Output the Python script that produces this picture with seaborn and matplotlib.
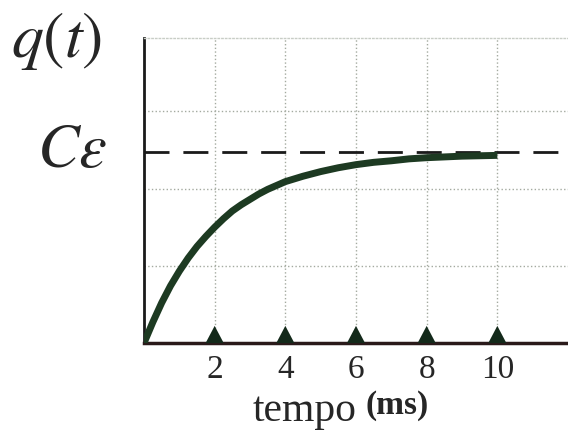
import numpy as np
import pandas as pd
import seaborn as sns
import matplotlib.pyplot as plt

# valori (unità di griglia)
t_ms = [0, 0.25, 0.5, 0.75, 1, 1.25, 1.5, 1.75, 2, 2.25, 2.5, 2.75, 3, 3.25,
        3.5, 3.75, 4, 4.5, 5, 5.5, 6, 6.5, 7, 7.5, 8, 8.5, 9, 9.5, 10]
q_vals = [0, 0.27, 0.52, 0.74, 0.93, 1.10, 1.25, 1.38, 1.50, 1.61, 1.71, 1.79,
          1.86, 1.93, 1.99, 2.04, 2.09, 2.16, 2.22, 2.27, 2.31, 2.34, 2.36,
          2.385, 2.40, 2.41, 2.42, 2.425, 2.43]
c_eps = 2.48
tick_pos = [2, 4, 6, 8, 10]
tick_lab = ['2', '4', '6', '8', '10']
grid_y = [1, 2, 3]

sns.set_style('white')
plt.rcParams['mathtext.fontset'] = 'stix'
plt.rcParams['font.family'] = ['Liberation Serif', 'DejaVu Serif']

df = pd.DataFrame({'t': t_ms, 'q': q_vals})
marks = pd.DataFrame({'t': tick_pos, 'q': [0] * len(tick_pos)})

fig = plt.figure(figsize=(5.68, 4.32), dpi=100)
ax = fig.add_axes([0.2535, 0.206, 0.7465, 0.706])

for x in tick_pos:
    ax.axvline(x, color='#a4aaa0', lw=1, ls=':', zorder=1)
for y in grid_y:
    ax.axhline(y, color='#a4aaa0', lw=1, ls=':', zorder=1)

ax.axhline(c_eps, color='#1a1a1a', lw=2, dashes=(9, 5), zorder=2)

sns.lineplot(data=df, x='t', y='q', ax=ax, color='#1d3a22', lw=5, zorder=3,
             solid_capstyle='butt')

# triangolino con la base sull'asse
tri = [(-1, 0), (1, 0), (0, 1.9), (-1, 0)]
sns.scatterplot(data=marks, x='t', y='q', ax=ax, marker=tri, s=610,
                color='#13291a', edgecolor='none', clip_on=False, zorder=4)

ax.set_xlim(0, 12)
ax.set_ylim(0, 3.95)
ax.set_xticks(tick_pos)
ax.set_xticklabels(tick_lab, fontsize=24)
ax.set_yticks([])
ax.tick_params(axis='x', length=0, pad=8)
ax.set_xlabel('')
ax.set_ylabel('')

ax.spines['right'].set_visible(False)
ax.spines['top'].set_color('#c8cdc6')
ax.spines['top'].set_linestyle(':')
ax.spines['top'].set_linewidth(1)
ax.spines['left'].set_color('#1a1a1a')
ax.spines['left'].set_linewidth(2)
ax.spines['bottom'].set_color('#2a1a1a')
ax.spines['bottom'].set_linewidth(2.5)

fig.text(0.10, 0.905, r'$q(t)$', fontsize=46, ha='center', va='center')
fig.text(0.127, 0.648, r'$C\varepsilon$', fontsize=45, ha='center', va='center')
fig.text(0.536, 0.05, 'tempo', fontsize=30, ha='center', va='center')
fig.text(0.70, 0.062, '(ms)', fontsize=24, fontweight='bold', ha='center', va='center')

fig.savefig('out.png', dpi=100)
